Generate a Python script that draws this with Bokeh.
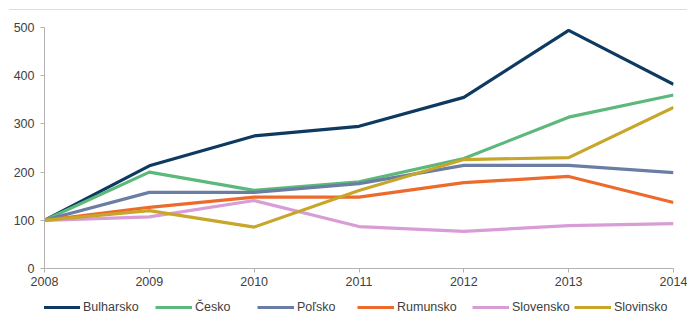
from bokeh.plotting import figure
from bokeh.models import Range1d, FixedTicker, Legend, LegendItem, Div
from bokeh.layouts import column
from bokeh.embed import file_html
from bokeh.resources import INLINE

years = [2008, 2009, 2010, 2011, 2012, 2013, 2014]
bulharsko = [100, 213, 275, 295, 355, 494, 382]
cesko = [100, 200, 162, 180, 228, 314, 360]
polsko = [100, 158, 158, 176, 214, 214, 199]
rumunsko = [100, 127, 148, 148, 178, 191, 137]
slovensko = [100, 107, 141, 87, 77, 89, 93]
slovinsko = [100, 120, 86, 162, 226, 230, 334]

names = ["Bulharsko", "Česko", "Poľsko", "Rumunsko", "Slovensko", "Slovinsko"]
series = [bulharsko, cesko, polsko, rumunsko, slovensko, slovinsko]
colors = ["#0e3a62", "#5cb87b", "#6a7ea4", "#ec6a2c", "#d89dd6", "#c7a62a"]
y_ticks = [0, 100, 200, 300, 400, 500]

FONT = "Liberation Sans"
TXT = "#404040"
AX = "#b3b3b3"

p = figure(frame_width=629, frame_height=241, output_backend="svg",
           toolbar_location=None, x_range=Range1d(2008, 2014),
           y_range=Range1d(0, 500), min_border_left=44, min_border_right=14,
           min_border_top=17, min_border_bottom=29)
p.outline_line_color = None
p.xgrid.grid_line_color = None
p.ygrid.grid_line_color = None

# legend strip below the chart (its lines lie outside its visible range)
lg = figure(width=687, height=20, output_backend="svg", toolbar_location=None,
            x_range=Range1d(0, 1), y_range=Range1d(0, 1),
            x_axis_location=None, y_axis_location=None, min_border=0)
lg.outline_line_color = None
lg.grid.visible = False

legend_x = [43, 155, 257, 357, 472, 574]

for name, vals, c, lx in zip(names, series, colors, legend_x):
    p.line(years, vals, line_color=c, line_width=3.2)
    r = lg.line(years, vals, line_color=c, line_width=3.2)
    leg = Legend(items=[LegendItem(label=name, renderers=[r])],
                 location=(lx - 44, 2), glyph_width=37, glyph_height=16,
                 label_height=16, label_standoff=3, padding=0, margin=0,
                 label_text_font=FONT, label_text_font_size="12.5px",
                 label_text_color=TXT, border_line_color=None,
                 background_fill_alpha=0)
    lg.add_layout(leg, "center")

for ax in (p.xaxis[0], p.yaxis[0]):
    ax.axis_label = None
    ax.axis_label_standoff = 0
    ax.axis_line_color = AX
    ax.major_tick_line_color = AX
    ax.minor_tick_line_color = None
    ax.major_tick_in = 0
    ax.major_tick_out = 4
    ax.major_label_text_font = FONT
    ax.major_label_text_font_size = "12.5px"
    ax.major_label_text_color = TXT
    ax.major_label_standoff = 6

p.xaxis[0].major_label_standoff = 4
p.xaxis[0].ticker = FixedTicker(ticks=years)
p.yaxis[0].ticker = FixedTicker(ticks=y_ticks)

top = Div(width=678, height=1, margin=(9, 0, 0, 9),
          styles={"background-color": "#dcdcdc"})
layout = column(top, p, lg, spacing=0)

open("out.html", "w").write(file_html(layout, INLINE))
